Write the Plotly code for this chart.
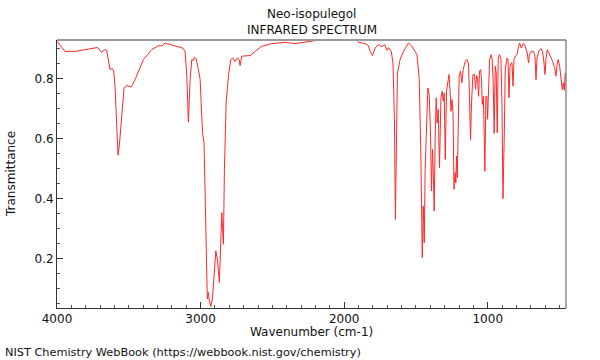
import plotly.graph_objects as go

wavenumber = [
    4000, 3944, 3875, 3782, 3717, 3689, 3670, 3654, 3642, 3631, 3615, 3605, 3596, 3584, 3575, 3566,
    3549, 3533, 3514, 3484, 3456, 3398, 3340, 3294, 3266, 3247, 3236, 3190, 3124, 3108, 3096, 3085,
    3073, 3061, 3050, 3043, 3031, 3015, 3003, 2992, 2985, 2976, 2969, 2962, 2953, 2946, 2939, 2929,
    2918, 2906, 2894, 2883, 2869, 2857, 2852, 2841, 2834, 2822, 2806, 2790, 2776, 2760, 2744, 2732,
    2725, 2713, 2678, 2655, 2620, 2585, 2574, 2504, 2411, 2341, 2272, 2202, 2063, 1970, 1912, 1900,
    1854, 1831, 1819, 1803, 1784, 1761, 1737, 1719, 1702, 1691, 1672, 1660, 1650, 1643, 1636, 1629,
    1610, 1587, 1552, 1528, 1493, 1477, 1466, 1456, 1449, 1442, 1436, 1426, 1417, 1408, 1399, 1392,
    1385, 1380, 1373, 1366, 1359, 1352, 1345, 1336, 1326, 1317, 1310, 1303, 1296, 1287, 1277, 1270,
    1263, 1256, 1249, 1242, 1235, 1228, 1222, 1217, 1212, 1206, 1199, 1190, 1180, 1171, 1157, 1145,
    1134, 1127, 1120, 1113, 1103, 1092, 1085, 1078, 1071, 1064, 1057, 1050, 1043, 1038, 1031, 1027,
    1020, 1013, 1006, 1001, 994, 987, 976, 969, 962, 955, 948, 941, 934, 927, 918, 908,
    901, 894, 885, 878, 866, 859, 852, 845, 838, 831, 824, 817, 808, 796, 785, 778,
    766, 754, 743, 732, 725, 716, 709, 697, 681, 671, 664, 657, 645, 629, 618, 608,
    601, 594, 585, 575, 564, 548, 534, 525, 516, 509, 499, 488, 481, 474, 467, 460,
]

transmittance = [
    0.926, 0.892, 0.892, 0.900, 0.905, 0.889, 0.898, 0.896, 0.859, 0.831, 0.835, 0.826, 0.776, 0.653, 0.545, 0.576,
    0.687, 0.770, 0.778, 0.773, 0.798, 0.865, 0.898, 0.911, 0.911, 0.920, 0.918, 0.911, 0.903, 0.892, 0.809, 0.656,
    0.798, 0.865, 0.862, 0.873, 0.867, 0.831, 0.798, 0.676, 0.615, 0.587, 0.387, 0.187, 0.065, 0.087, 0.059, 0.040,
    0.065, 0.142, 0.226, 0.198, 0.120, 0.287, 0.353, 0.248, 0.498, 0.720, 0.809, 0.865, 0.870, 0.859, 0.870, 0.865,
    0.845, 0.876, 0.876, 0.878, 0.892, 0.903, 0.909, 0.918, 0.922, 0.918, 0.922, 0.928, 0.929, 0.928, 0.929, 0.922,
    0.918, 0.911, 0.892, 0.878, 0.903, 0.915, 0.907, 0.915, 0.896, 0.905, 0.892, 0.853, 0.665, 0.331, 0.609, 0.820,
    0.865, 0.892, 0.920, 0.909, 0.881, 0.798, 0.553, 0.203, 0.376, 0.253, 0.498, 0.676, 0.770, 0.748, 0.631, 0.426,
    0.565, 0.498, 0.359, 0.609, 0.737, 0.653, 0.698, 0.503, 0.737, 0.759, 0.726, 0.753, 0.531, 0.759, 0.787, 0.815,
    0.765, 0.692, 0.731, 0.687, 0.431, 0.487, 0.453, 0.542, 0.470, 0.609, 0.809, 0.826, 0.787, 0.831, 0.859, 0.865,
    0.850, 0.735, 0.596, 0.720, 0.815, 0.815, 0.765, 0.811, 0.803, 0.742, 0.826, 0.831, 0.798, 0.715, 0.742, 0.665,
    0.492, 0.742, 0.742, 0.665, 0.809, 0.865, 0.881, 0.865, 0.787, 0.618, 0.842, 0.820, 0.620, 0.870, 0.881, 0.865,
    0.720, 0.400, 0.609, 0.831, 0.870, 0.865, 0.737, 0.842, 0.853, 0.853, 0.776, 0.865, 0.876, 0.881, 0.909, 0.920,
    0.903, 0.918, 0.915, 0.898, 0.887, 0.853, 0.881, 0.892, 0.892, 0.876, 0.798, 0.870, 0.892, 0.901, 0.892, 0.853,
    0.815, 0.870, 0.898, 0.887, 0.876, 0.859, 0.837, 0.809, 0.853, 0.865, 0.842, 0.803, 0.765, 0.787, 0.762, 0.820,
]

x_ticks = [4000, 3000, 2000, 1000]
y_ticks = [0.2, 0.4, 0.6, 0.8]

FONT = "DejaVu Sans"

fig = go.Figure()
fig.add_trace(go.Scatter(
    x=wavenumber, y=transmittance, mode="lines",
    line=dict(color="rgb(255,40,40)", width=1),
    hoverinfo="skip", showlegend=False,
))

fig.update_layout(
    width=600, height=360,
    margin=dict(l=57, r=34, t=40, b=52, autoexpand=False),
    paper_bgcolor="white", plot_bgcolor="white",
    font=dict(family=FONT, size=12, color="#111"),
    xaxis=dict(
        range=[4000, 455], tickvals=x_ticks, ticktext=[str(v) for v in x_ticks],
        ticks="inside", ticklen=6, tickcolor="#333", tickwidth=1, automargin=False,
        showgrid=False, zeroline=False, showline=True, linecolor="#333", linewidth=1,
        minor=dict(dtick=100, tick0=0, ticks="inside", ticklen=3, tickcolor="#555", showgrid=False),
        tickfont=dict(size=12),
    ),
    yaxis=dict(
        range=[0.035, 0.93], tickvals=y_ticks, ticktext=[f"{v:.1f}" for v in y_ticks],
        ticks="inside", ticklen=6, tickcolor="#333", tickwidth=1, automargin=False,
        showgrid=False, zeroline=False, showline=True, linecolor="#333", linewidth=1,
        minor=dict(dtick=0.05, tick0=0, ticks="inside", ticklen=3, tickcolor="#555", showgrid=False),
        tickfont=dict(size=12),
    ),
    shapes=[
        dict(type="line", xref="paper", yref="paper", x0=0, x1=1, y0=1, y1=1,
             line=dict(color="#999", width=2)),
        dict(type="line", xref="paper", yref="paper", x0=1, x1=1, y0=0, y1=1,
             line=dict(color="#555", width=1)),
    ],
    annotations=[
        dict(text="Neo-isopulegol", xref="paper", yref="paper", x=0.5, y=1,
             yshift=26, showarrow=False, xanchor="center", yanchor="middle",
             font=dict(size=12)),
        dict(text="INFRARED SPECTRUM", xref="paper", yref="paper", x=0.5, y=1,
             yshift=10, showarrow=False, xanchor="center", yanchor="middle",
             font=dict(size=12)),
        dict(text="Wavenumber (cm-1)", xref="paper", yref="paper", x=0.5, y=0,
             yshift=-24, showarrow=False, xanchor="center", yanchor="middle",
             font=dict(size=12)),
        dict(text="Transmittance", xref="paper", yref="paper", x=0, y=0.5,
             xshift=-46, textangle=-90, showarrow=False, xanchor="center", yanchor="middle",
             font=dict(size=12)),
        dict(text="NIST Chemistry WebBook (https://webbook.nist.gov/chemistry)",
             xref="paper", yref="paper", x=0, y=0, xshift=-54, yshift=-44,
             showarrow=False, xanchor="left", yanchor="middle",
             font=dict(size=11.3)),
    ],
)

fig.write_html(
    "out.html",
    config={"displayModeBar": False},
    post_script="document.body.style.margin='0';document.body.style.overflow='hidden';",
)
